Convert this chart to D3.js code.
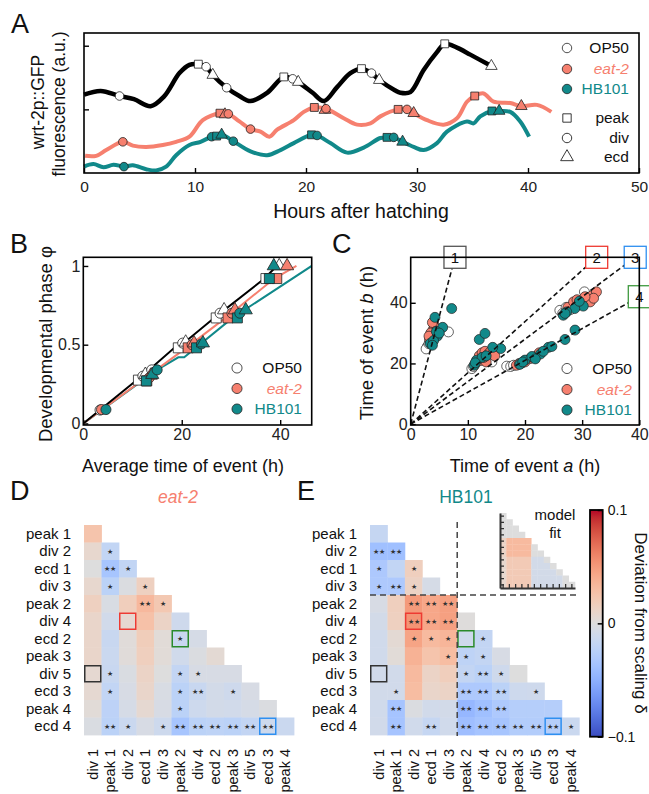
<!DOCTYPE html>
<html><head><meta charset="utf-8">
<script src="https://cdn.jsdelivr.net/npm/d3@7"></script>
<style>
body{margin:0;background:#fff}
svg{display:block}
text{font-family:"Liberation Sans",Arial,Helvetica,sans-serif}
</style></head>
<body><svg id="c" width="649" height="794"></svg>
<script>
// ---------------- DATA ----------------
const hourTicks = [0,10,20,30,40,50];
// Panel A traces [hours, fluorescence a.u.]
const traceOP50 = [[0,1.23],[1.5,1.29],[3.2,1.21],[4.5,1.16],[6.0,1.05],[7.2,1.2],[8.6,1.57],[9.5,1.7],[10.3,1.71],[11.0,1.67],[11.6,1.54],[12.85,1.34],[14.0,1.21],[15.0,1.13],[16.5,1.26],[18.0,1.51],[18.8,1.48],[19.3,1.43],[20.6,1.26],[21.6,1.13],[22.8,1.35],[24.0,1.57],[25.0,1.64],[25.9,1.57],[26.6,1.46],[28.0,1.3],[28.5,1.26],[29.4,1.27],[30.6,1.62],[31.8,1.9],[32.5,2.03],[33.6,1.97],[34.8,1.86],[36.7,1.68]];
const traceEat2 = [[0.1,0.27],[1.1,0.27],[2.0,0.36],[3.5,0.49],[4.4,0.43],[5.6,0.41],[7.1,0.44],[8.3,0.49],[9.5,0.57],[10.7,0.83],[12.25,0.94],[13.0,0.93],[14.0,0.81],[15.0,0.69],[15.9,0.65],[16.7,0.57],[17.4,0.68],[18.9,0.83],[19.8,0.96],[20.75,1.03],[21.8,1.01],[23.4,0.86],[24.6,0.76],[25.8,0.78],[26.7,0.89],[28.3,1.0],[29.1,1.0],[29.7,0.94],[30.9,0.83],[32.4,0.76],[33.6,0.86],[34.5,1.12],[35.2,1.21],[36.0,1.25],[36.9,1.12],[38.4,1.1],[39.4,1.05],[40.8,1.07],[42.1,0.96]];
const traceHB101 = [[0,0.1],[0.85,0.14],[1.75,0.09],[2.65,0.13],[3.6,0.1],[4.4,0.12],[5.6,0.06],[6.5,0.04],[7.4,0.1],[8.3,0.28],[9.5,0.44],[10.5,0.49],[11.5,0.57],[12.4,0.6],[13.45,0.5],[15.0,0.34],[16.5,0.28],[17.7,0.36],[18.9,0.47],[20.5,0.6],[21.0,0.59],[22.2,0.47],[23.7,0.32],[25.2,0.4],[26.7,0.55],[27.3,0.56],[27.9,0.56],[28.7,0.49],[29.7,0.41],[30.6,0.36],[31.8,0.47],[32.7,0.65],[34.5,0.81],[35.1,0.78],[35.7,0.89],[36.75,0.975],[37.4,0.975],[38.4,0.96],[39.3,0.81],[40.1,0.57]];
// Panel A event markers [hours, fluorescence, event type]
const markOP50 = [[3.2,1.21,"div"],[10.3,1.71,"peak"],[11.0,1.67,"div"],[11.6,1.54,"ecd"],[12.85,1.34,"div"],[18.0,1.51,"peak"],[18.8,1.48,"div"],[19.3,1.43,"ecd"],[25.0,1.64,"peak"],[25.9,1.57,"div"],[26.6,1.46,"ecd"],[32.5,2.03,"peak"],[36.7,1.68,"ecd"]];
const markEat2 = [[3.5,0.49,"div"],[12.25,0.94,"peak"],[12.7,0.92,"ecd"],[13.0,0.93,"div"],[15.0,0.69,"div"],[20.75,1.03,"peak"],[21.7,0.99,"ecd"],[21.8,1.01,"div"],[28.3,1.0,"peak"],[29.1,1.0,"div"],[29.7,0.94,"ecd"],[35.2,1.21,"peak"],[39.4,1.05,"ecd"]];
const markHB101 = [[3.6,0.1,"div"],[11.5,0.57,"div"],[11.95,0.58,"peak"],[12.4,0.6,"ecd"],[13.45,0.5,"div"],[20.5,0.6,"peak"],[21.0,0.59,"div"],[27.3,0.56,"peak"],[27.9,0.56,"div"],[28.7,0.49,"ecd"],[36.75,0.975,"peak"],[37.4,0.975,"ecd"]];

// Panel B: phase vs average time  [hours, phase, type]
const phaseTicks = [0,0.5,1];
const avgTicks = [0,20,40];
const phaseLineOP50 = [[0,0],[13,0.33],[18.5,0.48],[20,0.5],[27,0.68],[36.8,0.92],[39.3,1.0]];
const phaseLineEat2 = [[0,0],[13.5,0.31],[20.5,0.47],[29.3,0.68],[38.8,0.92],[43.3,1.0]];
const phaseLineHB101 = [[0,0],[15,0.34],[19.3,0.42],[20.5,0.42],[30.5,0.675],[46.4,1.0]];
const phaseOP50 = [[3.4,0.085,"div"],[11.2,0.275,"peak"],[12.1,0.3,"div"],[12.6,0.31,"ecd"],[13.9,0.34,"div"],[19.3,0.48,"peak"],[20.2,0.51,"div"],[20.8,0.515,"ecd"],[27.0,0.67,"peak"],[27.8,0.7,"div"],[28.6,0.72,"ecd"],[37.1,0.92,"peak"],[39.8,1.0,"ecd"]];
const phaseEat2 = [[3.7,0.088,"div"],[12.9,0.27,"peak"],[13.4,0.29,"div"],[13.7,0.305,"ecd"],[21.3,0.48,"peak"],[22.1,0.5,"div"],[22.5,0.51,"ecd"],[29.4,0.67,"peak"],[30.2,0.7,"div"],[30.8,0.72,"ecd"],[39.3,0.92,"peak"],[41.4,1.0,"ecd"]];
const phaseHB101 = [[4.6,0.088,"div"],[12.8,0.27,"peak"],[14.0,0.31,"ecd"],[15.0,0.34,"div"],[23.0,0.48,"peak"],[24.0,0.505,"div"],[24.3,0.51,"ecd"],[31.3,0.67,"peak"],[31.8,0.7,"div"],[33.0,0.72,"ecd"],[37.8,0.92,"peak"],[38.7,1.0,"ecd"]];

// Panel C: pairs of event times [time a, time b]
const timeATicks = [0,10,20,30,40];
const timeBTicks = [0,20,40];
const scaleSlopes = [7.1, 1.69, 1.40, 1.05];
const pairsOP50 = [[2.9,25.5],[2.7,24.8],[3.2,26.5],[3.6,28],[6.6,30.4],[3.9,30],[3.4,27.3],[10.7,18.3],[11.0,19.0],[11.3,19.8],[14.2,20.5],[12.2,22],[13,23],[26.1,37.5],[26.6,36.5],[27.2,38.5],[30.4,43.6],[28,37.8],[29.3,39.2],[16.8,19.1],[17.5,19.0],[18.0,19.4],[19.0,20],[21.5,22]];
const pairsEat2 = [[3.3,28],[3.6,29.5],[3.9,31],[4.1,32.5],[3.8,33.5],[4.3,30.5],[3.5,30],[4.0,28.5],[3.2,29],[12.0,22.5],[12.5,23.5],[13.0,24],[13.5,23],[14.0,24],[14.5,23.5],[12.3,21],[13.2,20.5],[14.7,22.5],[12.8,22],[27.5,38.5],[28.5,40.3],[29.1,41],[30.0,40.5],[30.9,41.6],[31.4,40.3],[31.7,42.3],[32.5,43.6],[32.0,41.5],[29.5,39.5],[30.5,42],[18.5,19.4],[19.5,20.2],[20.9,21.6],[22.1,22.6],[21.4,22.0],[20.0,20.5],[22.5,23.5],[19.0,19.8]];
const pairsHB101 = [[4.25,35.2],[7.17,38.1],[5.6,31.9],[4.66,29],[3.4,26.6],[4.0,27.5],[4.5,30.5],[3.8,26],[5.0,30],[12.0,27.9],[13.0,29.9],[15.75,24.9],[14.35,25.3],[11.1,19.4],[11.5,21],[12.5,22],[13.2,22.5],[11.3,20.2],[30.2,38.9],[28.7,38.1],[27.3,37],[26.7,35.9],[29.5,40.5],[27.0,36.5],[19.1,19.7],[20.0,21.1],[21.2,22.3],[22.7,23.1],[24.1,25.3],[24.7,25.6],[27.0,27.9],[28.75,31],[21.8,21.5],[23.2,24],[19.6,20.5]];

// Panels D, E: deviation from scaling (lower triangle)
const rowEvents = ["peak 1","div 2","ecd 1","div 3","peak 2","div 4","ecd 2","peak 3","div 5","ecd 3","peak 4","ecd 4"];
const colEvents = ["div 1","peak 1","div 2","ecd 1","div 3","peak 2","div 4","ecd 2","peak 3","div 5","ecd 3","peak 4"];
const devEat2 = [
 [0.025],
 [0.008,-0.019],
 [0.0,-0.035,-0.019],
 [0.008,-0.023,-0.002,0.015],
 [0.015,-0.004,0.017,0.033,0.022],
 [0.01,-0.009,0.007,0.027,0.012,-0.011],
 [0.01,-0.015,0.002,0.018,0.003,-0.015,-0.006],
 [0.01,-0.014,0.002,0.016,0.003,-0.01,-0.002,0.005],
 [0.006,-0.015,-0.003,0.012,0.0,-0.018,-0.005,-0.005,-0.005],
 [0.006,-0.019,-0.005,0.01,-0.004,-0.023,-0.015,-0.008,-0.011,-0.005],
 [0.003,-0.022,-0.006,0.006,-0.005,-0.023,-0.012,-0.008,-0.009,-0.006,-0.002],
 [-0.003,-0.023,-0.014,-0.005,-0.012,-0.035,-0.023,-0.021,-0.023,-0.018,-0.012,-0.014]];
const starsEat2 = [[0],[0,1],[0,2,1],[0,1,0,1],[0,0,0,2,1],[0,0,0,0,0,0],[0,0,0,0,0,1,0],[0,0,0,0,0,0,0,0],[0,1,0,0,0,1,1,0,0],[0,1,0,0,0,1,2,0,1,0],[0,0,0,0,0,1,0,0,0,0,0],[0,2,1,0,1,2,2,2,2,2,2,0]];
const devHB101 = [
 [-0.017],
 [-0.039,-0.039],
 [-0.032,-0.019,0.016],
 [-0.031,-0.031,0.013,-0.006],
 [-0.005,0.016,0.05,0.043,0.047],
 [-0.008,0.015,0.053,0.043,0.047,0.001],
 [-0.01,0.005,0.045,0.032,0.035,-0.011,-0.018],
 [-0.01,0.003,0.037,0.025,0.03,-0.021,-0.018,-0.005],
 [-0.009,-0.009,0.032,0.012,0.017,-0.018,-0.023,-0.011,0.0],
 [-0.009,-0.009,0.03,0.01,0.012,-0.031,-0.031,-0.023,-0.012,-0.011],
 [-0.01,-0.036,-0.002,-0.009,-0.008,-0.045,-0.039,-0.031,-0.027,-0.027,-0.027],
 [-0.009,-0.036,-0.01,-0.017,-0.01,-0.04,-0.036,-0.035,-0.028,-0.028,-0.027,-0.014]];
const starsHB101 = [[0],[2,2],[1,0,1],[1,2,1,0],[0,0,2,2,2],[0,0,2,2,2,0],[0,0,1,1,1,0,1],[0,0,0,0,1,1,1,0],[0,0,0,0,0,1,2,1,0],[0,1,0,0,0,2,2,2,0,1],[0,2,0,0,0,2,2,2,0,0,0],[0,2,0,2,0,2,2,2,2,2,2,1]];
const modelFit = [
 [0],[0,0],[0,0,0],[0,0,0,0],
 [0.012,0.032,0.032,0.032,0.032],
 [0.012,0.032,0.032,0.032,0.032,0],
 [0.012,0.032,0.032,0.032,0.032,0,0],
 [0.008,0.02,0.02,0.02,0.02,-0.008,-0.008,0],
 [0.008,0.02,0.02,0.02,0.02,-0.008,-0.008,-0.008,0],
 [0.008,0.02,0.02,0.02,0.02,-0.008,-0.008,-0.008,-0.008,0],
 [0.008,0.02,0.02,0.02,0.02,-0.008,-0.008,-0.008,-0.008,-0.008,0],
 [0.008,0.02,0.02,0.02,0.02,-0.008,-0.008,-0.008,-0.008,-0.008,0,0]];
const highlightCells = [["div 5","div 1","#333333"],["div 4","div 2","#ee3a32"],["ecd 2","peak 2","#2a8a2a"],["ecd 4","ecd 3","#2e8ff0"]];
const boxColors = ["#555555","#ee3a32","#2e8ff0","#3f9a3f"];
const cbTicks = [0.1,0,-0.1];
// coolwarm colormap anchors
const coolwarm = [[59,76,192],[68,90,204],[77,104,215],[87,117,225],[98,130,234],[108,142,241],[119,154,247],[130,165,251],[141,176,254],[152,185,255],[163,194,255],[174,201,253],[184,208,249],[194,213,244],[204,217,238],[213,219,230],[221,221,221],[229,216,209],[236,211,197],[241,204,184],[245,196,172],[247,187,160],[247,177,148],[247,166,135],[244,154,123],[241,141,111],[236,127,99],[229,112,88],[222,96,77],[213,80,66],[203,62,56],[192,40,47],[180,4,38]];

// ---------------- STYLE ----------------
const C_OP50 = "#000000", C_EAT = "#f6806f", C_HB = "#11898a";
const svg = d3.select("#c");
const symType = {peak:d3.symbolSquare, div:d3.symbolCircle, ecd:d3.symbolTriangle};

function styleAxis(g, fs){
  g.select(".domain").remove();
  g.selectAll(".tick line").attr("stroke","#000").attr("stroke-width",1.4);
  g.selectAll(".tick text").style("font-size",fs+"px").attr("fill","#222");
}
function frame(x0,y0,x1,y1){
  svg.append("rect").attr("x",x0).attr("y",y0).attr("width",x1-x0).attr("height",y1-y0)
    .attr("fill","none").attr("stroke","#000").attr("stroke-width",1.6);
}
function letter(t,x,y){
  svg.append("text").attr("x",x).attr("y",y).text(t).style("font-size","27px").attr("fill","#111");
}
function markers(g, data, xs, ys, fill, sizes){
  g.selectAll(null).data(data).join("path")
    .attr("transform",d=>`translate(${xs(d[0])},${ys(d[1])})`)
    .attr("d",d=>d3.symbol().type(symType[d[2]]).size(sizes[d[2]])())
    .attr("fill",fill).attr("stroke","#222").attr("stroke-width",0.8);
}

// ---------------- PANEL A ----------------
const xA = d3.scaleLinear().domain([0,50]).range([84,639]);
const yA = d3.scaleLinear().domain([0,2.2]).range([173,33]);
const gA = svg.append("g");
gA.append("g").attr("transform","translate(0,173)")
  .call(d3.axisBottom(xA).tickValues(hourTicks).tickSizeInner(-5).tickSizeOuter(0).tickPadding(8))
  .call(g=>styleAxis(g,15.5));
gA.append("g").attr("transform","translate(84,0)")
  .call(d3.axisLeft(yA).tickValues([1,2]).tickSizeInner(-5).tickSizeOuter(0).tickFormat(""))
  .call(g=>styleAxis(g,15));
const lineA = d3.line().x(d=>xA(d[0])).y(d=>yA(d[1])).curve(d3.curveCatmullRom.alpha(0.5));
[[traceEat2,C_EAT,4],[traceHB101,C_HB,4],[traceOP50,C_OP50,4.5]].forEach(([d,c,w])=>{
  gA.append("path").datum(d).attr("d",lineA).attr("fill","none").attr("stroke",c).attr("stroke-width",w).attr("stroke-linejoin","round");
});
const sizesA = {peak:62, div:58, ecd:58};
markers(gA, markEat2, xA, yA, C_EAT, sizesA);
markers(gA, markHB101, xA, yA, C_HB, sizesA);
markers(gA, markOP50, xA, yA, "#fff", sizesA);
frame(84,33,639,173);
// legend A
const legA = [["OP50","#fff",C_OP50,false,48],["eat-2",C_EAT,C_EAT,true,69],["HB101",C_HB,C_HB,false,89]];
legA.forEach(([t,f,tc,it,y])=>{
  gA.append("path").attr("transform",`translate(567,${y})`).attr("d",d3.symbol().type(d3.symbolCircle).size(70)()).attr("fill",f).attr("stroke","#222").attr("stroke-width",0.8);
  gA.append("text").attr("x",629).attr("y",y).attr("dy","0.35em").attr("text-anchor","end").text(t)
    .style("font-size","15.5px").style("font-style",it?"italic":"normal").attr("fill",tc==="#000000"?"#111":tc);
});
[["peak","peak",118],["div","div",138],["ecd","ecd",157]].forEach(([k,t,y])=>{
  gA.append("path").attr("transform",`translate(567,${y})`).attr("d",d3.symbol().type(symType[k]).size(70)()).attr("fill","#fff").attr("stroke","#222").attr("stroke-width",0.9);
  gA.append("text").attr("x",629).attr("y",y).attr("dy","0.35em").attr("text-anchor","end").text(t).style("font-size","15.5px").attr("fill","#111");
});
svg.append("text").attr("x",361).attr("y",218).attr("text-anchor","middle").text("Hours after hatching").style("font-size","19.5px").attr("fill","#111");
svg.append("text").attr("transform","translate(44,102) rotate(-90)").attr("text-anchor","middle").text("wrt-2p::GFP").style("font-size","17.5px").attr("fill","#111");
svg.append("text").attr("transform","translate(65,104) rotate(-90)").attr("text-anchor","middle").text("fluorescence (a.u.)").style("font-size","17.5px").attr("fill","#111");
letter("A",11,33);

// ---------------- PANEL B ----------------
const xB = d3.scaleLinear().domain([0,46.4]).range([83.3,311.7]);
const yB = d3.scaleLinear().domain([-0.01,1.055]).range([425,257.3]);
const gB = svg.append("g");
gB.append("g").attr("transform","translate(0,425)")
  .call(d3.axisBottom(xB).tickValues(avgTicks).tickSizeInner(-5).tickSizeOuter(0).tickPadding(4))
  .call(g=>styleAxis(g,16));
gB.append("g").attr("transform","translate(83.3,0)")
  .call(d3.axisLeft(yB).tickValues(phaseTicks).tickFormat(d=>d===0.5?"0.5":d).tickSizeInner(-5).tickSizeOuter(0).tickPadding(3))
  .call(g=>styleAxis(g,16));
const lineB = d3.line().x(d=>xB(d[0])).y(d=>yB(d[1]));
gB.append("defs").append("clipPath").attr("id","clipB").append("rect").attr("x",83.3).attr("y",257.3).attr("width",228.4).attr("height",167.7);
[[phaseLineHB101,C_HB],[phaseLineEat2,C_EAT],[phaseLineOP50,C_OP50]].forEach(([d,c])=>{
  gB.append("path").datum(d).attr("d",lineB).attr("fill","none").attr("stroke",c).attr("stroke-width",2).attr("clip-path","url(#clipB)");
});
const sizesB = {peak:100, div:80, ecd:75};
markers(gB, phaseOP50, xB, yB, "#fff", sizesB);
markers(gB, phaseEat2, xB, yB, C_EAT, sizesB);
markers(gB, phaseHB101, xB, yB, C_HB, sizesB);
frame(83.3,257.3,311.7,425);
const legB = [["OP50","#fff","#111",false,368],["eat-2",C_EAT,C_EAT,true,388.5],["HB101",C_HB,C_HB,false,409]];
legB.forEach(([t,f,tc,it,y])=>{
  gB.append("path").attr("transform",`translate(237,${y})`).attr("d",d3.symbol().type(d3.symbolCircle).size(80)()).attr("fill",f).attr("stroke","#222").attr("stroke-width",0.8);
  gB.append("text").attr("x",302).attr("y",y).attr("dy","0.35em").attr("text-anchor","end").text(t)
    .style("font-size","15.5px").style("font-style",it?"italic":"normal").attr("fill",tc);
});
svg.append("text").attr("x",183).attr("y",472).attr("text-anchor","middle").text("Average time of event (h)").style("font-size","18px").attr("fill","#111");
svg.append("text").attr("transform","translate(52,344) rotate(-90)").attr("text-anchor","middle").text("Developmental phase φ").style("font-size","18.5px").attr("fill","#111");
letter("B",10,253);

// ---------------- PANEL C ----------------
const xC = d3.scaleLinear().domain([0,40]).range([410.7,639.3]);
const yC = d3.scaleLinear().domain([-0.3,55]).range([425,257.3]);
const gC = svg.append("g");
gC.append("g").attr("transform","translate(0,425)")
  .call(d3.axisBottom(xC).tickValues(timeATicks).tickSizeInner(-5).tickSizeOuter(0).tickPadding(4))
  .call(g=>styleAxis(g,16));
gC.append("g").attr("transform","translate(410.7,0)")
  .call(d3.axisLeft(yC).tickValues(timeBTicks).tickSizeInner(-5).tickSizeOuter(0).tickPadding(3))
  .call(g=>styleAxis(g,16));
const dotC = (data, fill)=> gC.selectAll(null).data(data).join("circle")
  .attr("cx",d=>xC(d[0])).attr("cy",d=>yC(d[1])).attr("r",5)
  .attr("fill",fill).attr("stroke","#222").attr("stroke-width",0.7);
dotC(pairsOP50,"#fff");
dotC(pairsEat2,C_EAT);
dotC(pairsHB101,C_HB);
frame(410.7,257.3,639.3,425);
scaleSlopes.forEach((s,i)=>{
  const xe = Math.min(40, 55/s), ye = s*xe;
  gC.append("line").attr("x1",xC(0)).attr("y1",yC(0)).attr("x2",xC(xe)).attr("y2",yC(ye))
    .attr("stroke","#111").attr("stroke-width",1.6).attr("stroke-dasharray","5,3");
  const bx = xC(xe), by = yC(ye);
  gC.append("rect").attr("x",bx-11).attr("y",by-11).attr("width",22).attr("height",22)
    .attr("fill","#fff").attr("stroke",boxColors[i]).attr("stroke-width",1.3);
  gC.append("text").attr("x",bx).attr("y",by).attr("dy","0.36em").attr("text-anchor","middle").text(i+1).style("font-size","15px").attr("fill","#111");
});
const legC = [["OP50","#fff","#111",false,368.5],["eat-2",C_EAT,C_EAT,true,389.5],["HB101",C_HB,C_HB,false,410]];
legC.forEach(([t,f,tc,it,y])=>{
  gC.append("path").attr("transform",`translate(567,${y})`).attr("d",d3.symbol().type(d3.symbolCircle).size(80)()).attr("fill",f).attr("stroke","#222").attr("stroke-width",0.8);
  gC.append("text").attr("x",632).attr("y",y).attr("dy","0.35em").attr("text-anchor","end").text(t)
    .style("font-size","15.5px").style("font-style",it?"italic":"normal").attr("fill",tc);
});
const tC = svg.append("text").attr("x",525).attr("y",472).attr("text-anchor","middle").style("font-size","18px").attr("fill","#111");
tC.append("tspan").text("Time of event ");
tC.append("tspan").text("a").style("font-style","italic");
tC.append("tspan").text(" (h)");
const tCy = svg.append("text").attr("transform","translate(373,343) rotate(-90)").attr("text-anchor","middle").style("font-size","18.5px").attr("fill","#111");
tCy.append("tspan").text("Time of event ");
tCy.append("tspan").text("b").style("font-style","italic");
tCy.append("tspan").text(" (h)");
letter("C",332,253);

// ---------------- PANELS D, E ----------------
const cwScale = d3.scaleLinear().domain(d3.range(33).map(i=>-0.1+0.2*i/32))
  .range(coolwarm.map(c=>`rgb(${c[0]},${c[1]},${c[2]})`)).interpolate(d3.interpolateRgb).clamp(true);

function heat(x0,x1,y0,y1,vals,stars,labelRight){
  const xs = d3.scaleBand().domain(colEvents).range([x0,x1]);
  const ys = d3.scaleBand().domain(rowEvents).range([y0,y1]);
  const g = svg.append("g");
  const cells = [];
  vals.forEach((row,r)=>row.forEach((v,c)=>cells.push({r:rowEvents[r],c:colEvents[c],v,s:stars[r][c]})));
  g.selectAll(null).data(cells).join("rect")
    .attr("x",d=>xs(d.c)).attr("y",d=>ys(d.r)).attr("width",xs.bandwidth()+0.4).attr("height",ys.bandwidth()+0.4)
    .attr("fill",d=>cwScale(d.v));
  g.selectAll(null).data(cells.filter(d=>d.s>0)).join("text")
    .attr("x",d=>xs(d.c)+xs.bandwidth()/2).attr("y",d=>ys(d.r)+ys.bandwidth()/2).attr("dy","0.38em")
    .attr("text-anchor","middle").style("font-size","7px").attr("fill","#333").text(d=>"★".repeat(d.s));
  g.selectAll(null).data(highlightCells).join("rect")
    .attr("x",d=>xs(d[1])+0.75).attr("y",d=>ys(d[0])+0.75).attr("width",xs.bandwidth()-1.5).attr("height",ys.bandwidth()-1.5)
    .attr("fill","none").attr("stroke",d=>d[2]).attr("stroke-width",1.5);
  g.append("g").attr("transform",`translate(${x0},0)`).call(d3.axisLeft(ys).tickSize(0).tickPadding(labelRight))
    .call(a=>{a.select(".domain").remove(); a.selectAll("text").style("font-size","15px").attr("fill","#111");});
  g.selectAll(null).data(colEvents).join("text")
    .attr("transform",d=>`translate(${xs(d)+xs.bandwidth()/2},749) rotate(-90)`)
    .attr("dy","0.36em").attr("text-anchor","end").style("font-size","14.5px").attr("fill","#111").text(d=>d);
  return {xs,ys,g};
}
heat(84,294,525,735,devEat2,starsEat2,13);
svg.append("text").attr("x",178).attr("y",503).attr("text-anchor","middle").text("eat-2").style("font-size","17.5px").style("font-style","italic").attr("fill",C_EAT);
letter("D",10,500);

const E = heat(370,579.3,525,735,devHB101,starsHB101,13);
E.g.append("line").attr("x1",E.xs("peak 2")).attr("x2",E.xs("peak 2")).attr("y1",522).attr("y2",736)
  .attr("stroke","#444").attr("stroke-width",1.5).attr("stroke-dasharray","6,4");
E.g.append("line").attr("x1",370).attr("x2",577).attr("y1",E.ys("peak 2")).attr("y2",E.ys("peak 2"))
  .attr("stroke","#444").attr("stroke-width",1.5).attr("stroke-dasharray","6,4");
svg.append("text").attr("x",466).attr("y",503).attr("text-anchor","middle").text("HB101").style("font-size","17.5px").attr("fill",C_HB);
letter("E",297,500);

// inset model fit
const xm = d3.scaleBand().domain(colEvents).range([500,575]);
const ym = d3.scaleBand().domain(rowEvents).range([513,588]);
const gm = svg.append("g");
const mcells = [];
modelFit.forEach((row,r)=>row.forEach((v,c)=>mcells.push({r:rowEvents[r],c:colEvents[c],v})));
gm.selectAll(null).data(mcells).join("rect")
  .attr("x",d=>xm(d.c)).attr("y",d=>ym(d.r)).attr("width",xm.bandwidth()+0.3).attr("height",ym.bandwidth()+0.3)
  .attr("fill",d=>cwScale(d.v));
gm.append("g").attr("transform","translate(500,0)").call(d3.axisLeft(ym).tickSizeInner(-4).tickSizeOuter(0).tickFormat(""))
  .call(a=>{a.select(".domain").attr("stroke","#333").attr("stroke-width",2); a.selectAll(".tick line").attr("stroke","#333").attr("stroke-width",1.3);});
gm.append("g").attr("transform","translate(0,588)").call(d3.axisBottom(xm).tickSizeInner(-4).tickSizeOuter(0).tickFormat(""))
  .call(a=>{a.select(".domain").attr("stroke","#333").attr("stroke-width",2); a.selectAll(".tick line").attr("stroke","#333").attr("stroke-width",1.3);});
gm.append("text").attr("x",555).attr("y",520).attr("text-anchor","middle").text("model").style("font-size","15px").attr("fill","#111");
gm.append("text").attr("x",555).attr("y",538).attr("text-anchor","middle").text("fit").style("font-size","15px").attr("fill","#111");

// colorbar
const cbY = d3.scaleLinear().domain([-0.1,0.1]).range([736.7,510]);
const grad = svg.append("defs").append("linearGradient").attr("id","cbg").attr("x1",0).attr("x2",0).attr("y1",1).attr("y2",0);
grad.selectAll("stop").data(coolwarm).join("stop").attr("offset",(d,i)=>i/32).attr("stop-color",d=>`rgb(${d[0]},${d[1]},${d[2]})`);
svg.append("rect").attr("x",590).attr("y",cbY(0.1)).attr("width",12.7).attr("height",cbY(-0.1)-cbY(0.1))
  .attr("fill","url(#cbg)").attr("stroke","#000").attr("stroke-width",1.8);
const gcb = svg.append("g").attr("transform","translate(602.7,0)")
  .call(d3.axisRight(cbY).tickValues(cbTicks).tickSizeInner(-5).tickSizeOuter(0).tickPadding(5).tickFormat(d=>d===0?"0":d3.format(".1f")(d).replace("-","−")));
gcb.select(".domain").remove();
gcb.selectAll(".tick line").attr("stroke","#000").attr("stroke-width",1.5);
gcb.selectAll(".tick text").style("font-size","14px").attr("fill","#111");
svg.append("text").attr("transform","translate(635,623) rotate(90)").attr("text-anchor","middle").text("Deviation from scaling δ").style("font-size","17px").attr("fill","#111");
</script></body></html>
